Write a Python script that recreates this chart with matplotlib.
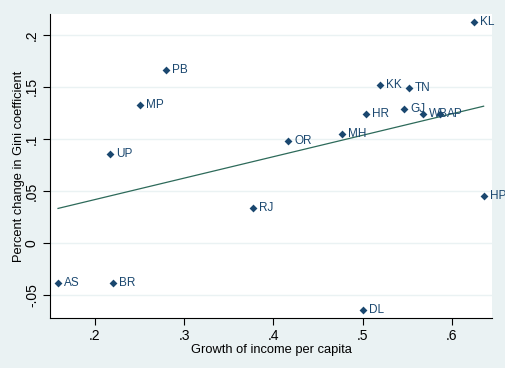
import numpy as np
import matplotlib
matplotlib.use("Agg")
import matplotlib.pyplot as plt

plt.rcParams['font.family'] = ['Liberation Sans', 'DejaVu Sans']

states = ['KL', 'PB', 'MP', 'UP', 'KK', 'TN', 'GJ', 'WB', 'AP', 'HR',
          'MH', 'OR', 'HP', 'RJ', 'AS', 'BR', 'DL']
income_growth = [0.6246, 0.2795, 0.2504, 0.2168, 0.5191, 0.5516, 0.5460, 0.5673, 0.5870, 0.5035,
                 0.4766, 0.4161, 0.6356, 0.3766, 0.1586, 0.2202, 0.5000]
gini_change = [0.2125, 0.1663, 0.1327, 0.0859, 0.1520, 0.1490, 0.1288, 0.1240, 0.1240, 0.1240,
               0.1048, 0.0984, 0.0455, 0.0337, -0.0388, -0.0388, -0.0644]

x = np.array(income_growth)
y = np.array(gini_change)

bg = '#eaf2f3'
navy = '#1a476f'

fig = plt.figure(figsize=(5.06, 3.68), dpi=100, facecolor=bg)
ax = fig.add_axes([50/506, 1-318/368, 442/506, 304/368])
ax.set_facecolor('white')

# linear fit over the data range
b, a = np.polyfit(x, y, 1)
xs = np.array([x.min(), x.max()])
ax.plot(xs, a + b*xs, color='#2d6a5a', lw=0.9, zorder=2)

ax.scatter(x, y, marker='D', s=16, color=navy, zorder=3, linewidths=0)
for s, xi, yi in zip(states, x, y):
    ax.annotate(s, (xi, yi), xytext=(4.5, 0), textcoords='offset points',
                va='center', ha='left', fontsize=8.5, color=navy, zorder=4)

ax.set_xlim(0.1496, 0.645)
ax.set_ylim(-0.072, 0.220)
ax.set_xticks([0.2, 0.3, 0.4, 0.5, 0.6])
ax.set_xticklabels(['.2', '.3', '.4', '.5', '.6'])
ax.set_yticks([-0.05, 0, 0.05, 0.1, 0.15, 0.2])
ax.set_yticklabels(['-.05', '0', '.05', '.1', '.15', '.2'], rotation=90, va='center')
ax.grid(axis='y', color=bg, lw=1)
ax.set_axisbelow(True)
for sp in ['top', 'right']:
    ax.spines[sp].set_visible(False)
ax.tick_params(direction='out', length=5, width=0.8, labelsize=10, pad=3)
ax.set_xlabel('Growth of income per capita', fontsize=9.3, labelpad=1)
ax.set_ylabel('Percent change in Gini coefficient', fontsize=9.3, labelpad=0)

fig.savefig('out.png', dpi=100, facecolor=bg)
